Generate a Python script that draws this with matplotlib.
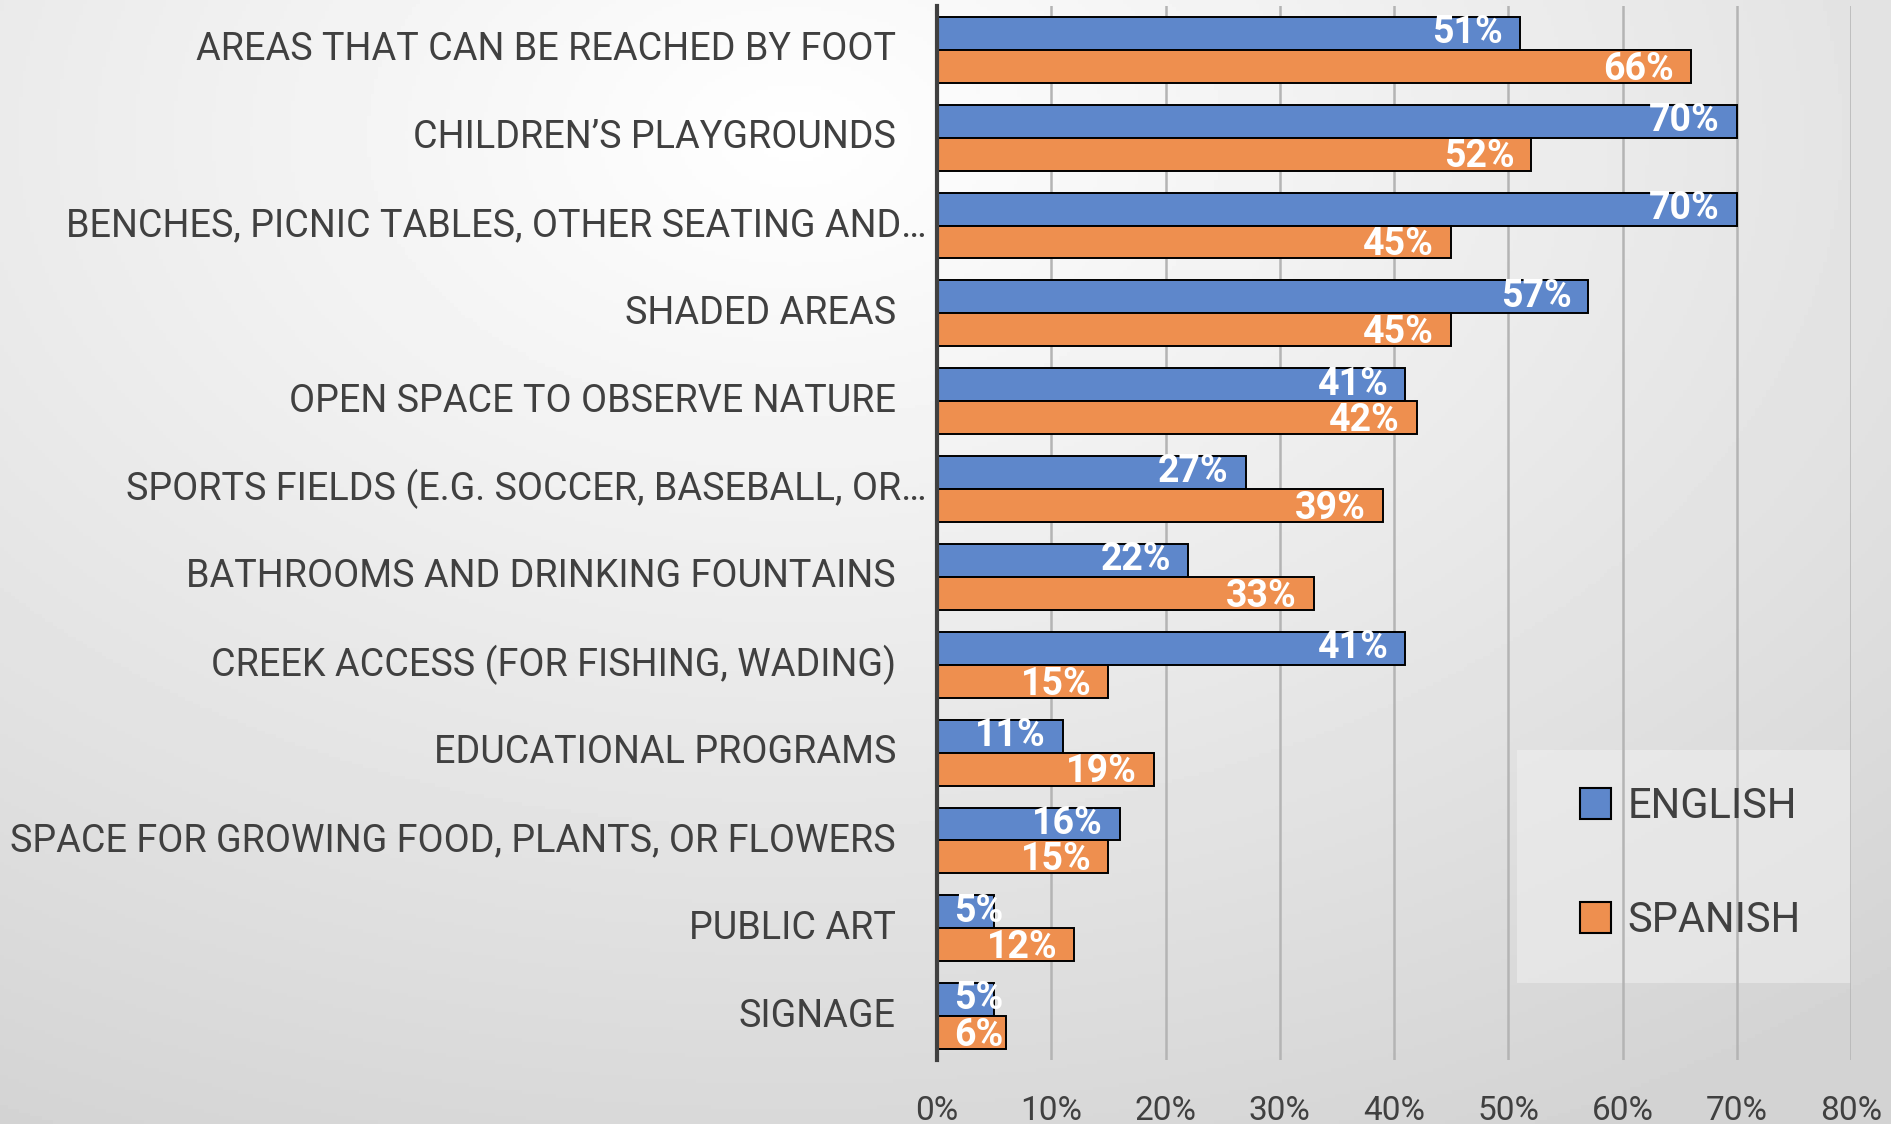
import numpy as np
import matplotlib.pyplot as plt
from matplotlib.patches import Patch, Rectangle
from matplotlib import font_manager

categories = [
    "AREAS THAT CAN BE REACHED BY FOOT",
    "CHILDREN\u2019S PLAYGROUNDS",
    "BENCHES, PICNIC TABLES, OTHER SEATING AND\u2026",
    "SHADED AREAS",
    "OPEN SPACE TO OBSERVE NATURE",
    "SPORTS FIELDS (E.G. SOCCER, BASEBALL, OR\u2026",
    "BATHROOMS AND DRINKING FOUNTAINS",
    "CREEK ACCESS (FOR FISHING, WADING)",
    "EDUCATIONAL PROGRAMS",
    "SPACE FOR GROWING FOOD, PLANTS, OR FLOWERS",
    "PUBLIC ART",
    "SIGNAGE",
]
english = [51, 70, 70, 57, 41, 27, 22, 41, 11, 16, 5, 5]
spanish = [66, 52, 45, 45, 42, 39, 33, 15, 19, 15, 12, 6]
series_names = ["ENGLISH", "SPANISH"]
xticks = [0, 10, 20, 30, 40, 50, 60, 70, 80]

BLUE = "#5e87cb"
ORANGE = "#ee8f4f"
TEXT = "#404040"

names = {f.name for f in font_manager.fontManager.ttflist}
FAM = ["Liberation Sans Narrow", "DejaVu Sans"] if "Liberation Sans Narrow" in names else ["Roboto", "DejaVu Sans"]
plt.rcParams["font.family"] = FAM

fig = plt.figure(figsize=(18.91, 11.24), dpi=100)

# soft radial background
bg = fig.add_axes([0, 0, 1, 1], zorder=-10)
yy, xx = np.mgrid[0:1:300j, 0:1:500j]
d = np.sqrt(((xx - 0.42) * 1.0) ** 2 + ((yy - 0.12) * 0.9) ** 2)
shade = np.clip(1.0 - 0.19 * d, 0.83, 1.0)
bg.imshow(shade, cmap="gray", vmin=0, vmax=1, aspect="auto", extent=[0, 1, 1, 0])
bg.set_axis_off()

ax = fig.add_axes([0.4955, 0.0569, 0.4834, 0.9378])
ax.patch.set_alpha(0)

y = np.arange(len(categories))
h = 0.375
b1 = ax.barh(y - h / 2, english, height=h, color=BLUE, edgecolor="black", linewidth=1.4, zorder=3)
b2 = ax.barh(y + h / 2, spanish, height=h, color=ORANGE, edgecolor="black", linewidth=1.4, zorder=3)

ax.set_xlim(0, 80)
ax.set_ylim(len(categories) - 0.5, -0.5)

# value labels: inside end, pushed right of the axis when the bar is too short
inset = 12.2  # points
labels = []
for bars, vals, dy in ((b1, english, 0.5), (b2, spanish, -2.0)):
    for rect, v in zip(bars, vals):
        t = ax.annotate(f"{v}%", (v, rect.get_y() + rect.get_height() / 2),
                        xytext=(-inset, dy), textcoords="offset points",
                        ha="right", va="center", color="white", fontsize=27,
                        fontweight="bold", zorder=4)
        labels.append((t, dy))

fig.canvas.draw()
r = fig.canvas.get_renderer()
x0 = ax.transData.transform((0, 0))[0]
pad_px = inset * fig.dpi / 72
for t, dy in labels:
    bb = t.get_window_extent(r)
    if bb.x0 < x0 + pad_px:
        t.xy = (0, t.xy[1])
        t.set_position((inset, dy))
        t.set_ha("left")

ax.set_xticks(xticks)
ax.set_xticklabels([f"{t}%" for t in xticks], fontsize=24, color=TEXT)
ax.tick_params(axis="x", length=0, pad=25)
ax.set_yticks([])
ax.grid(axis="x", color="#b4b4b4", linewidth=1.8, zorder=0)
for s in ("top", "right", "bottom"):
    ax.spines[s].set_visible(False)
ax.spines["left"].set_color("#404040")
ax.spines["left"].set_linewidth(3)
ax.spines["left"].set_zorder(5)

# category labels, truncated ones sit closer to the axis
for i, c in enumerate(categories):
    off = -10 if c.endswith("\u2026") else -41
    ax.annotate(c, (0, i), xytext=(off * 0.72, 0), textcoords="offset points",
                ha="right", va="center", fontsize=27.2, color=TEXT, annotation_clip=False)

# legend panel
ax.add_patch(Rectangle((0.8023, 0.1255), 0.1767, 0.2071, transform=fig.transFigure,
                       facecolor="#f0f0f0", alpha=0.55, edgecolor="none", zorder=1,
                       clip_on=False))
handles = [Patch(facecolor=BLUE, edgecolor="black", linewidth=1.5),
           Patch(facecolor=ORANGE, edgecolor="black", linewidth=1.5)]
leg = ax.legend(handles, series_names, loc="center", bbox_to_anchor=(0.8938, 0.2318),
                bbox_transform=fig.transFigure, frameon=False, fontsize=30,
                handlelength=0.75, handleheight=0.75, handletextpad=0.4,
                labelspacing=1.75, borderpad=0, borderaxespad=0)
leg.set_zorder(6)
for t in leg.get_texts():
    t.set_color(TEXT)

fig.savefig("out.png", dpi=100)
